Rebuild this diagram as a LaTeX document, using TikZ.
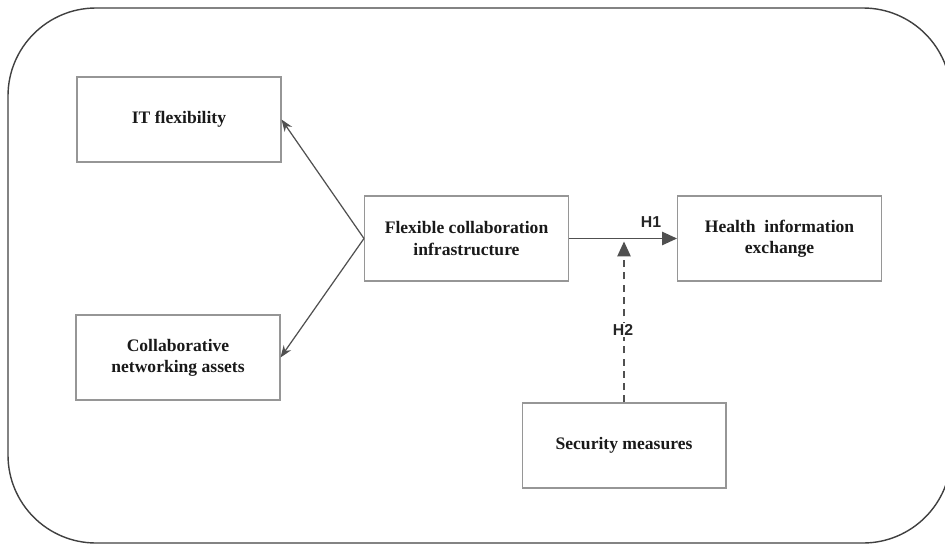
\documentclass[tikz,border=0pt]{standalone}
\usepackage{fontspec}
\setmainfont{Liberation Serif}
\setsansfont{Liberation Sans}
\usetikzlibrary{arrows.meta}
\definecolor{boxgray}{RGB}{150,150,150}
\definecolor{arrowgray}{RGB}{80,80,80}
\begin{document}
\begin{tikzpicture}
[x=0.02cm,y=-0.02cm,
construct/.style={rectangle,draw=boxgray,line width=0.6pt,minimum width=4.08cm,
minimum height=1.7cm,align=center,font=\bfseries,text=black!90},
link/.style={draw=arrowgray,line width=0.7pt,-{Stealth[length=2.4mm,width=1.8mm]}},
hyp/.style={draw=arrowgray,line width=0.7pt,-{Triangle[length=3mm,width=2.7mm]}},
hlabel/.style={font=\sffamily\bfseries\small,text=black!85,inner sep=1pt}]
       \clip (0,0) rectangle (945,544);
       \draw[line width=0.8pt,black!75,rounded corners=1.76cm] (8,8) rectangle (951,543);
       \node (itflex) at (179,119.5) [construct] {IT flexibility};
       \node (collab) at (178,357.5) [construct] {Collaborative\\networking assets};
       \node (fci) at (466.5,238.5) [construct] {Flexible collaboration\\infrastructure};
       \node (hie) at (779.5,238.5) [construct] {Health\ \ information\\exchange};
       \node (secm) at (624,445.5) [construct] {Security measures};
       \coordinate (mod) at ([yshift=-0.06cm]secm.north |- fci.east);
       \draw[link] (fci.west) -- (itflex.east);
       \draw[link] (fci.west) -- (collab.east);
       \draw[hyp] (fci.east) -- (hie.west);
       \draw[hyp,dash pattern=on 4pt off 3pt] (secm.north) -- (mod);
       \node at (651,222) [hlabel] {H1};
       \node at (623,330) [hlabel,fill=white] {H2};
    \end{tikzpicture}
\end{document}
